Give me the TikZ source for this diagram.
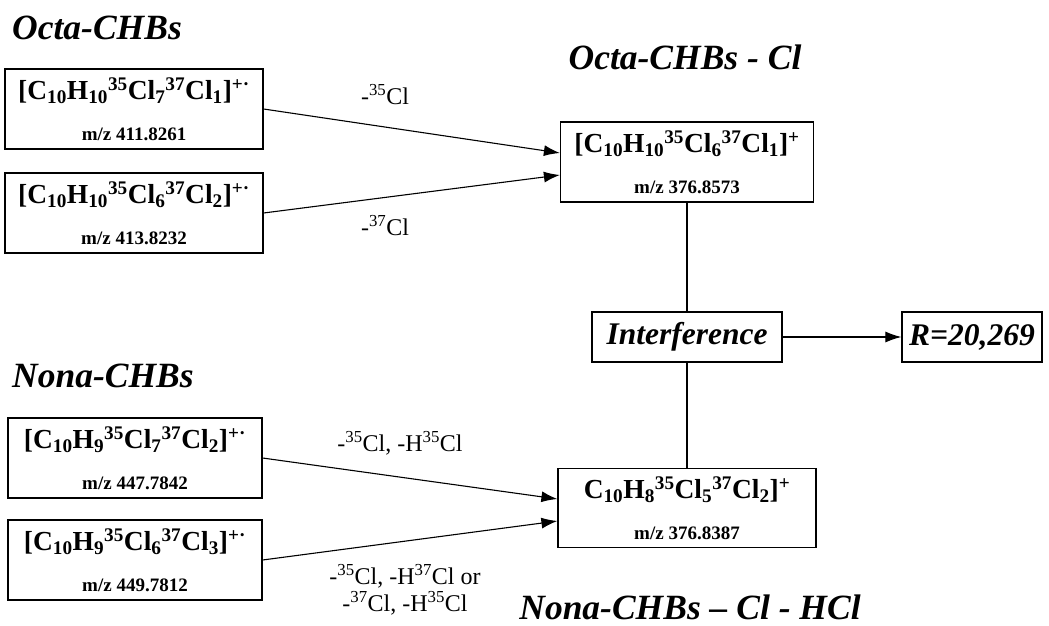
\documentclass[tikz,border=0pt]{standalone}
\usepackage{fontspec}
\setmainfont{Liberation Serif}
\usepackage{tikz}
\usetikzlibrary{positioning,arrows.meta}

\newcommand{\dn}[1]{\textsubscript{#1}}
\newcommand{\up}[1]{\textsuperscript{#1}}
\newcommand{\mz}[1]{{\fontsize{19}{21}\selectfont m/z #1}}

\begin{document}
\begin{tikzpicture}[x=1pt, y=-1pt,
  ionbox/.style={draw, line width=1.2pt, minimum width=258pt, minimum height=80pt, align=center, inner sep=0pt, font=\fontsize{27.5}{31}\selectfont\bfseries},
  resbox/.style={draw, line width=1.2pt, minimum height=50pt, inner sep=0pt, font=\fontsize{31.5}{35}\selectfont\bfseries\itshape},
  heading/.style={font=\fontsize{35.5}{40}\selectfont\bfseries\itshape, inner sep=0pt},
  loss/.style={font=\fontsize{24}{27}\selectfont, align=center, inner sep=0pt},
  flow/.style={line width=1.1pt, -{Latex[length=16pt,width=11pt]}},
  link/.style={line width=1.1pt}]
\useasboundingbox (0,0) rectangle (1049,626);

% headings
\node[heading, anchor=west] (octa) at (12,28) {Octa-CHBs};
\node[heading] (octacl) at (685,57) {Octa-CHBs - Cl};
\node[heading, anchor=west] (nona) at (12,376) {Nona-CHBs};
\node[heading] (nonacl) at (690,607) {Nona-CHBs -- Cl - HCl};

% parent ions
\node[ionbox] (octa1) at (134,109) {[C\dn{10}H\dn{10}\up{35}Cl\dn{7}\up{37}Cl\dn{1}]\up{+\textperiodcentered}\\[10pt] \mz{411.8261}};
\node[ionbox] (octa2) at (134,213) {[C\dn{10}H\dn{10}\up{35}Cl\dn{6}\up{37}Cl\dn{2}]\up{+\textperiodcentered}\\[10pt] \mz{413.8232}};
\node[ionbox, minimum width=254pt] (nona1) at (135,458) {[C\dn{10}H\dn{9}\up{35}Cl\dn{7}\up{37}Cl\dn{2}]\up{+\textperiodcentered}\\[10pt] \mz{447.7842}};
\node[ionbox, minimum width=254pt] (nona2) at (135,560) {[C\dn{10}H\dn{9}\up{35}Cl\dn{6}\up{37}Cl\dn{3}]\up{+\textperiodcentered}\\[10pt] \mz{449.7812}};

% fragment ions
\node[ionbox, minimum width=253pt] (frag1) at (687,162) {[C\dn{10}H\dn{10}\up{35}Cl\dn{6}\up{37}Cl\dn{1}]\up{+}\\[10pt] \mz{376.8573}};
\node[ionbox, minimum width=258pt, minimum height=79pt] (frag2) at (687,508) {C\dn{10}H\dn{8}\up{35}Cl\dn{5}\up{37}Cl\dn{2}]\up{+}\\[10pt] \mz{376.8387}};

\node[resbox, minimum width=190pt] (interf) at (687,337) {Interference};
\node[resbox, minimum width=140pt] (res) at (972,337) {R=20,269};

% losses
\node[loss] (l1) at (385,95) {-\up{35}Cl};
\node[loss] (l2) at (385,226) {-\up{37}Cl};
\node[loss] (l3) at (400,443) {-\up{35}Cl, -H\up{35}Cl};
\node[loss] (l4) at (405,590) {-\up{35}Cl, -H\up{37}Cl or\\ -\up{37}Cl, -H\up{35}Cl};

\draw[flow] (octa1.east) -- ([yshift=9pt]frag1.west);
\draw[flow] (octa2.east) -- ([yshift=-13pt]frag1.west);
\draw[flow] (nona1.east) -- ([yshift=9pt]frag2.west);
\draw[flow] (nona2.east) -- ([yshift=-13pt]frag2.west);

\draw[link] (frag1.south) -- (interf.north);
\draw[link] (interf.south) -- (frag2.north);
\draw[flow] (interf.east) -- (res.west);

\end{tikzpicture}
\end{document}
